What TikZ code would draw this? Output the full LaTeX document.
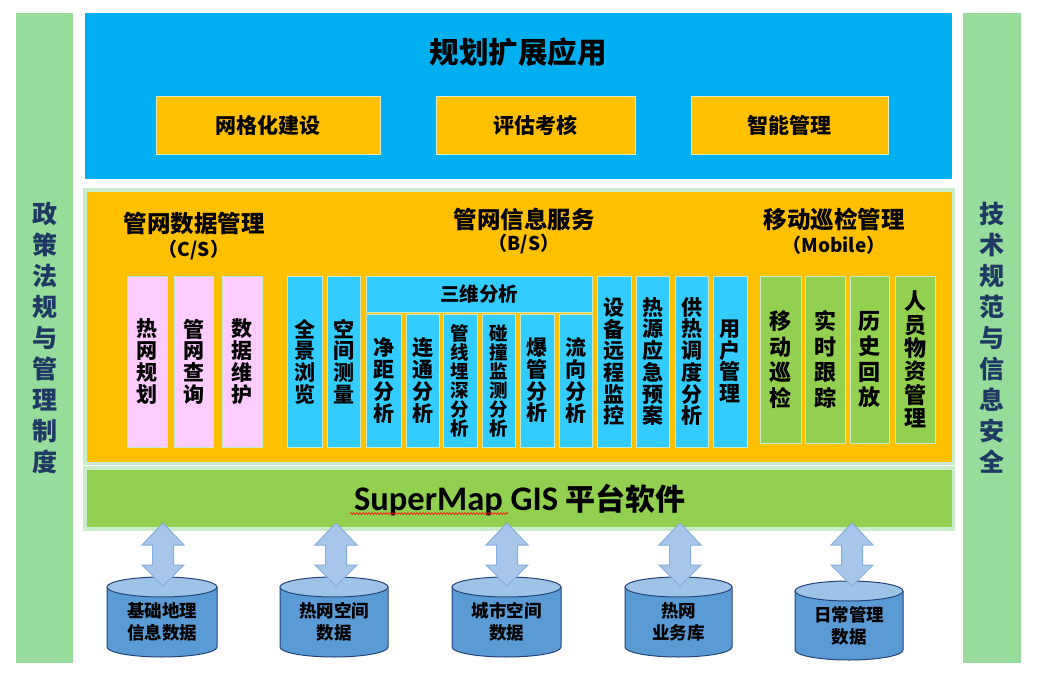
\documentclass[tikz,border=0pt]{standalone}
\usepackage{fontspec}
\setmainfont{Carlito}
\newfontfamily\cjk{Noto Sans CJK SC}
\usetikzlibrary{calc,decorations.pathmorphing}
\definecolor{topblue}{HTML}{00B0F0}
\definecolor{orng}{HTML}{FFC000}
\definecolor{sideG}{HTML}{98DC9C}
\definecolor{barG}{HTML}{92D050}
\definecolor{frameG}{HTML}{C9EDCB}
\definecolor{pinkc}{HTML}{FFCCFF}
\definecolor{cyanc}{HTML}{33CCFF}
\definecolor{edgec}{HTML}{C8E8C8}
\definecolor{edgeY}{HTML}{E6EEC0}
\definecolor{navy}{HTML}{1F3864}
\definecolor{cylbody}{HTML}{5B9BD5}
\definecolor{cyltop}{HTML}{9DC3E6}
\definecolor{cyledge}{HTML}{24447A}
\definecolor{arrowfill}{HTML}{A6C6EA}
\definecolor{arrowedge}{HTML}{86AEDD}
\newcommand\cbox[7]{\node[#1,minimum width={(#5)-(#3)},minimum height={(#6)-(#4)}] (#2) at ({((#3)+(#5))/2},{-((#4)+(#6))/2}) {#7};}
\newcommand\blockarrow[2]{\draw[barrow] (#1) -- ($(#1)+(21,-22)$) -- ($(#1)+(10.5,-22)$) -- ($(#2)+(10.5,21)$) -- ($(#2)+(21,21)$) -- (#2) -- ($(#2)+(-21,21)$) -- ($(#2)+(-10.5,21)$) -- ($(#1)+(-10.5,-22)$) -- ($(#1)+(-21,-22)$) -- cycle;}
\newcommand\dbcyl[6]{% name, cx, rx, ytop, ybot, text
 \fill[cylbody] ({#2-#3},-#4) -- ({#2-#3},-#5) arc (180:360:#3 and 10) -- ({#2+#3},-#4) -- cycle;
 \draw[cyledge, line width=1pt] ({#2-#3},-#4) -- ({#2-#3},-#5) arc (180:360:#3 and 10) -- ({#2+#3},-#4);
 \draw[cyledge, line width=1pt, fill=cyltop] (#2,-#4) ellipse ({#3} and 10);
 \coordinate (#1-top) at (#2,{-#4+10});
 \node[cyltext] (#1) at (#2,{-(#4+#5)/2-5}) {#6};}
\tikzset{
 every node/.style={inner sep=0pt, outer sep=0pt},
 colbox/.style={draw=edgec, line width=1pt, align=center, font=\cjk\bfseries\fontsize{21}{21.7}\selectfont},
 pinkbox/.style={colbox, fill=pinkc},
 cyanbox/.style={colbox, fill=cyanc},
 narrowtext/.style={font=\cjk\bfseries\fontsize{18.5}{19}\selectfont},
 greenbox/.style={colbox, fill=barG, font=\cjk\bfseries\fontsize{22}{25.5}\selectfont},
 appbox/.style={draw=edgeY, line width=1pt, fill=orng, font=\cjk\bfseries\fontsize{21}{24}\selectfont},
 head/.style={align=center, font=\cjk\bfseries\fontsize{23.5}{26}\selectfont},
 subhead/.style={font=\cjk\bfseries\fontsize{19}{22}\selectfont},
 sidetext/.style={fill=sideG, text=navy, align=center, font=\cjk\bfseries\fontsize{25}{31}\selectfont},
 cyltext/.style={align=center, font=\cjk\bfseries\fontsize{17.5}{22}\selectfont},
 barrow/.style={fill=arrowfill, draw=arrowedge, line width=1pt, line join=miter},
}
\begin{document}
\begin{tikzpicture}[x=1pt,y=1pt]
\useasboundingbox (0,0) rectangle (1045,-677);
\fill[white] (0,0) rectangle (1045,-677);
% side bars
\cbox{sidetext}{leftbar}{16}{13}{73}{663}{政\\策\\法\\规\\与\\管\\理\\制\\度}
\cbox{sidetext}{rightbar}{963}{13}{1021}{663}{技\\术\\规\\范\\与\\信\\息\\安\\全}
% top application layer
\cbox{fill=topblue}{toplayer}{85}{13}{952}{179}{}
\node[font=\cjk\bfseries\fontsize{29.5}{32}\selectfont] (toptitle) at (518,-52) {规划扩展应用};
\cbox{appbox}{app1}{156}{97}{380}{154}{网格化建设}
\cbox{appbox}{app2}{436}{97}{635}{154}{评估考核}
\cbox{appbox}{app3}{691}{97}{888}{154}{智能管理}
% middle layer
\cbox{fill=frameG}{midframe}{83}{188}{955}{465}{}
\cbox{fill=orng}{midlayer}{87}{192}{952}{462}{}
\node[head] (h1) at (194,-224) {管网数据管理};
\node[subhead] (h1s) at (194,-250) {（C/S）};
\node[head] (h2) at (524,-219) {管网信息服务};
\node[subhead] (h2s) at (524,-244) {（B/S）};
\node[head] (h3) at (834,-219) {移动巡检管理};
\node[subhead] (h3s) at (834,-245) {（Mobile）};
% C/S columns
\cbox{pinkbox}{c1}{127}{276}{167}{447}{热\\网\\规\\划}
\cbox{pinkbox}{c2}{174}{276}{213}{447}{管\\网\\查\\询}
\cbox{pinkbox}{c3}{222}{276}{262}{447}{数\\据\\维\\护}
% B/S columns
\cbox{cyanbox}{b1}{287}{276}{322}{447}{全\\景\\浏\\览}
\cbox{cyanbox}{b2}{327}{276}{360}{447}{空\\间\\测\\量}
\cbox{cyanbox, font=\cjk\bfseries\fontsize{19.5}{22}\selectfont}{b3}{366}{276}{592}{312}{三维分析}
\cbox{cyanbox}{b31}{366}{314}{401}{447}{净\\距\\分\\析}
\cbox{cyanbox}{b32}{406}{314}{439}{447}{连\\通\\分\\析}
\cbox{cyanbox, narrowtext}{b33}{443}{314}{477}{447}{管\\线\\埋\\深\\分\\析}
\cbox{cyanbox, narrowtext}{b34}{482}{314}{515}{447}{碰\\撞\\监\\测\\分\\析}
\cbox{cyanbox}{b35}{520}{314}{554}{447}{爆\\管\\分\\析}
\cbox{cyanbox}{b36}{559}{314}{592}{447}{流\\向\\分\\析}
\cbox{cyanbox}{b4}{597}{276}{631}{447}{设\\备\\远\\程\\监\\控}
\cbox{cyanbox}{b5}{636}{276}{669}{447}{热\\源\\应\\急\\预\\案}
\cbox{cyanbox}{b6}{675}{276}{708}{447}{供\\热\\调\\度\\分\\析}
\cbox{cyanbox}{b7}{713}{276}{747}{447}{用\\户\\管\\理}
% Mobile columns
\cbox{greenbox}{m1}{760}{276}{801}{443}{移\\动\\巡\\检}
\cbox{greenbox}{m2}{805}{276}{845}{443}{实\\时\\跟\\踪}
\cbox{greenbox}{m3}{850}{276}{889}{443}{历\\史\\回\\放}
\cbox{greenbox, font=\cjk\bfseries\fontsize{22}{23.4}\selectfont}{m4}{895}{276}{935}{443}{人\\员\\物\\资\\管\\理}
% platform bar
\cbox{fill=frameG}{barframe}{83}{466}{955}{531}{}
\cbox{fill=barG}{platform}{87}{470}{952}{527}{}
\node (ptext) at (520,-500) {\fontsize{34.5}{36}\selectfont\bfseries SuperMap GIS \cjk\fontsize{30}{36}\selectfont 平台软件};
\draw[red, line width=0.6pt, decorate, decoration={snake, amplitude=0.9pt, segment length=3pt}] (350,-513.5) -- (508,-513.5);
% databases
\dbcyl{d1}{162}{55}{587}{647}{基础地理\\信息数据}
\dbcyl{d2}{334}{54}{587}{647}{热网空间\\数据}
\dbcyl{d3}{506.5}{54.5}{587}{647}{城市空间\\数据}
\dbcyl{d4}{678.5}{53.5}{587}{647}{热网\\业务库}
\dbcyl{d5}{849}{54}{591}{650}{日常管理\\数据}
% arrows
\coordinate (t1) at (163,-523); \coordinate (e1) at (163,-586);
\coordinate (t2) at (336,-523); \coordinate (e2) at (336,-586);
\coordinate (t3) at (507,-523); \coordinate (e3) at (507,-586);
\coordinate (t4) at (680,-523); \coordinate (e4) at (680,-586);
\coordinate (t5) at (852,-523); \coordinate (e5) at (852,-586);
\blockarrow{t1}{e1}
\blockarrow{t2}{e2}
\blockarrow{t3}{e3}
\blockarrow{t4}{e4}
\blockarrow{t5}{e5}
\end{tikzpicture}
\end{document}
